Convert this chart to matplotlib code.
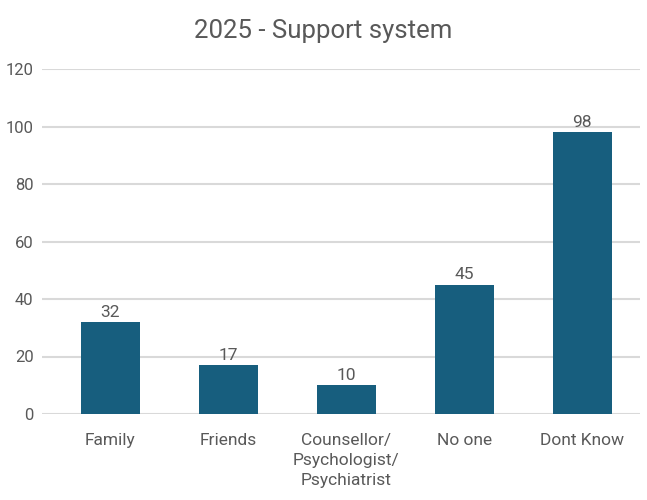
import matplotlib
matplotlib.use("Agg")
import matplotlib.pyplot as plt

categories = ["Family", "Friends", "Counsellor/\nPsychologist/\nPsychiatrist", "No one", "Dont Know"]
values = [32, 17, 10, 45, 98]
yticks = [0, 20, 40, 60, 80, 100, 120]

BAR_COLOR = "#175e7e"
TEXT_COLOR = "#595959"
GRID_COLOR = "#d9d9d9"

plt.rcParams['font.family'] = ['Roboto', 'DejaVu Sans']

fig = plt.figure(figsize=(6.47, 5.0), dpi=100)
ax = fig.add_axes([0.065, 0.172, 0.924, 0.69])

x = list(range(len(categories)))
bars = ax.bar(x, values, width=0.5, color=BAR_COLOR, zorder=3)
for b, v in zip(bars, values):
    ax.text(b.get_x() + b.get_width() / 2, v + 0.8, str(v), ha='center', va='bottom',
            fontsize=12.5, color=TEXT_COLOR)

ax.set_ylim(0, 120)
ax.set_xlim(-0.58, 4.49)
ax.set_yticks(yticks)
ax.set_xticks(x)
ax.set_xticklabels(categories, fontsize=12.5, color=TEXT_COLOR, linespacing=1.4)
ax.tick_params(axis='y', labelsize=12, labelcolor=TEXT_COLOR, length=0, pad=6)
ax.tick_params(axis='x', length=0, pad=14)
ax.grid(axis='y', color=GRID_COLOR, linewidth=1.5, zorder=0)
for s in ax.spines.values():
    s.set_visible(False)

fig.suptitle("2025 - Support system", y=0.962, fontsize=18.5, color=TEXT_COLOR)

fig.savefig("out.png", dpi=100)
